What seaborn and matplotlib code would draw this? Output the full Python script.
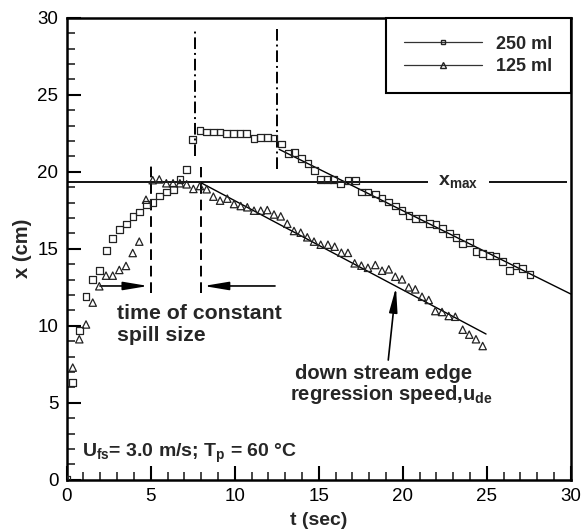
import matplotlib
matplotlib.use("Agg")
import matplotlib.pyplot as plt
from matplotlib.lines import Line2D
from matplotlib.ticker import MultipleLocator
import seaborn as sns
import pandas as pd

# Downstream edge position of the spill, 250 ml release
t_250 = [0.0, 0.33, 0.74, 1.15, 1.55, 1.94, 2.36, 2.74, 3.13, 3.55, 3.95, 4.34, 4.74,
         5.14, 5.53, 5.95, 6.35, 6.74, 7.14, 7.50, 7.93, 8.33, 8.73, 9.13, 9.52, 9.92,
         10.32, 10.72, 11.15, 11.55, 11.94, 12.34, 12.77, 13.20, 13.57, 13.96, 14.36,
         14.76, 15.12, 15.50, 15.90, 16.30, 16.74, 17.18, 17.54, 17.93, 18.37, 18.77,
         19.17, 19.56, 19.96, 20.38, 20.78, 21.20, 21.60, 21.98, 22.38, 22.77, 23.17,
         23.57, 23.96, 24.36, 24.76, 25.15, 25.55, 25.95, 26.35, 26.74, 27.14, 27.58]
x_250 = [0.0, 6.30, 9.70, 11.88, 12.98, 13.60, 14.88, 15.64, 16.26, 16.60, 17.09, 17.39,
         17.85, 17.99, 18.42, 18.68, 18.86, 19.50, 20.16, 22.10, 22.66, 22.58, 22.58,
         22.58, 22.50, 22.50, 22.50, 22.50, 22.14, 22.23, 22.23, 22.19, 21.80, 21.19,
         21.23, 20.84, 20.54, 20.06, 19.50, 19.50, 19.50, 19.20, 19.41, 19.41, 18.68,
         18.68, 18.55, 18.29, 18.03, 17.77, 17.49, 17.14, 16.95, 16.95, 16.65, 16.56,
         16.30, 16.00, 15.74, 15.30, 15.39, 14.83, 14.70, 14.57, 14.53, 14.18, 13.57,
         13.88, 13.70, 13.31]

# Downstream edge position of the spill, 125 ml release
t_125 = [0.0, 0.36, 0.75, 1.15, 1.55, 1.94, 2.34, 2.74, 3.13, 3.53, 3.93, 4.32, 4.72,
         5.12, 5.51, 5.93, 6.33, 6.74, 7.14, 7.54, 7.93, 8.33, 8.73, 9.13, 9.56, 9.96,
         10.36, 10.75, 11.15, 11.55, 11.94, 12.34, 12.74, 13.13, 13.53, 13.93, 14.32,
         14.72, 15.12, 15.55, 15.95, 16.35, 16.74, 17.14, 17.54, 17.93, 18.37, 18.77,
         19.17, 19.56, 19.96, 20.36, 20.75, 21.15, 21.55, 21.94, 22.34, 22.74, 23.13,
         23.57, 23.96, 24.36, 24.76]
x_125 = [0.0, 7.28, 9.12, 10.08, 11.50, 12.56, 13.25, 13.25, 13.62, 13.88, 14.72, 15.46,
         18.18, 19.45, 19.50, 19.25, 19.25, 19.25, 19.18, 18.88, 19.07, 18.86, 18.38,
         18.12, 18.25, 17.90, 17.77, 17.69, 17.47, 17.47, 17.51, 17.22, 17.10, 16.62,
         16.15, 16.04, 15.74, 15.46, 15.26, 15.26, 15.13, 14.74, 14.73, 14.05, 13.90,
         13.76, 13.94, 13.57, 13.66, 13.18, 13.01, 12.49, 12.36, 11.88, 11.67, 10.95,
         10.89, 10.63, 10.58, 9.74, 9.42, 9.12, 8.68]

# Linear regression of the receding edge
fit_250_t = [12.65, 30.0]
fit_250_x = [21.45, 12.06]
fit_125_t = [7.98, 24.96]
fit_125_x = [19.29, 9.46]

# Maximum spread and the time markers
x_max = 19.35
xmax_left = [0.0, 21.5]
xmax_right = [25.15, 29.75]
const_t = [5.0, 8.0]
const_top = [20.6, 20.3]
const_bottom = 12.1
plateau_t = [7.65, 12.5]
plateau_bottom = [21.0, 20.2]
plateau_top = 29.3

sns.set_style("ticks")
plt.rcParams["font.family"] = ["Liberation Sans", "DejaVu Sans"]
plt.rcParams["mathtext.fontset"] = "custom"
plt.rcParams["mathtext.rm"] = "Liberation Sans"
plt.rcParams["mathtext.bf"] = "Liberation Sans:bold"
plt.rcParams["mathtext.it"] = "Liberation Sans:italic"

fig = plt.figure(figsize=(5.81, 5.32), dpi=100)
ax = fig.add_axes([0.1148, 0.0983, 0.8675, 0.8684])

df250 = pd.DataFrame({"t": t_250, "x": x_250})
df125 = pd.DataFrame({"t": t_125, "x": x_125})

ink = "#222222"
sns.scatterplot(data=df250, x="t", y="x", marker="s", s=24, facecolor="none",
                edgecolor=ink, linewidth=0.9, ax=ax, zorder=4)
sns.scatterplot(data=df125, x="t", y="x", marker="^", s=28, facecolor="none",
                edgecolor=ink, linewidth=0.9, ax=ax, zorder=4)

sns.lineplot(x=fit_250_t, y=fit_250_x, color="black", linewidth=1.0, ax=ax, zorder=3)
sns.lineplot(x=fit_125_t, y=fit_125_x, color="black", linewidth=1.0, ax=ax, zorder=3)

ax.hlines(x_max, *xmax_left, color="black", linewidth=1.3, zorder=2)
ax.hlines(x_max, *xmax_right, color="black", linewidth=1.3, zorder=2)
ax.text(23.3, x_max, r"$\mathbf{x}_{\mathbf{max}}$", fontsize=14,
        ha="center", va="center")

for tc, top in zip(const_t, const_top):
    ax.vlines(tc, const_bottom, top, color="black", linewidth=1.4,
              linestyles=[(0, (5.5, 3.0))], zorder=2)
for tp, bot in zip(plateau_t, plateau_bottom):
    ax.vlines(tp, bot, plateau_top, color="black", linewidth=1.4,
              linestyles=[(0, (6.0, 2.0, 1.0, 2.0))], zorder=2)

arrow = dict(arrowstyle="-|>,head_length=1.5,head_width=0.25", color="black",
             linewidth=1.2, mutation_scale=10, shrinkA=0, shrinkB=0)
ax.annotate("", xy=(4.85, 12.58), xytext=(1.98, 12.58), arrowprops=arrow)
ax.annotate("", xy=(8.15, 12.58), xytext=(12.4, 12.58), arrowprops=arrow)
ax.annotate("", xy=(19.6, 12.5), xytext=(19.14, 7.77), arrowprops=arrow)

ax.text(2.97, 10.8, "time of constant", fontsize=15.3, fontweight="bold",
        ha="left", va="center")
ax.text(2.97, 9.35, "spill size", fontsize=15.3, fontweight="bold",
        ha="left", va="center")
ax.text(13.6, 6.9, "down stream edge", fontsize=14.5, fontweight="bold",
        ha="left", va="center")
ax.text(13.3, 5.55, r"regression speed,u$_{\mathbf{de}}$", fontsize=14.5,
        fontweight="bold", ha="left", va="center")
ax.text(0.9, 1.7, r"U$_{\mathbf{fs}}$= 3.0 m/s; T$_{\mathbf{p}}$ = 60 °C",
        fontsize=14, fontweight="bold", ha="left", va="center")

ax.set_xlim(0, 30)
ax.set_ylim(0, 30)
ax.xaxis.set_major_locator(MultipleLocator(5))
ax.yaxis.set_major_locator(MultipleLocator(5))
ax.xaxis.set_minor_locator(MultipleLocator(1))
ax.yaxis.set_minor_locator(MultipleLocator(1))
ax.tick_params(which="major", direction="in", length=10, width=1.5,
               labelsize=13.5, pad=6, top=False, right=False, colors="black")
ax.tick_params(which="minor", direction="in", length=6, width=1.2,
               top=False, right=False)
for sp in ax.spines.values():
    sp.set_visible(True)
    sp.set_linewidth(1.8)
    sp.set_color("black")

ax.set_xlabel("t (sec)", fontsize=14, fontweight="bold", labelpad=5)
ax.set_ylabel("x (cm)", fontsize=14.5, fontweight="bold", labelpad=4)

handles = [
    Line2D([0], [0], color="#333333", linewidth=0.9, marker="s", markersize=3.5,
           markerfacecolor="none", markeredgecolor=ink),
    Line2D([0], [0], color="#333333", linewidth=0.9, marker="^", markersize=4,
           markerfacecolor="none", markeredgecolor=ink),
]
leg = ax.legend(handles, ["250 ml", "125 ml"], loc="upper right",
                bbox_to_anchor=(1.0, 1.0), borderaxespad=0, fancybox=False,
                framealpha=1, edgecolor="black", fontsize=13,
                handlelength=4.3, handletextpad=0.8, labelspacing=0.3,
                borderpad=1.0)
leg.get_frame().set_linewidth(1.5)
for txt in leg.get_texts():
    txt.set_fontweight("bold")

fig.savefig("out.png", dpi=100)
